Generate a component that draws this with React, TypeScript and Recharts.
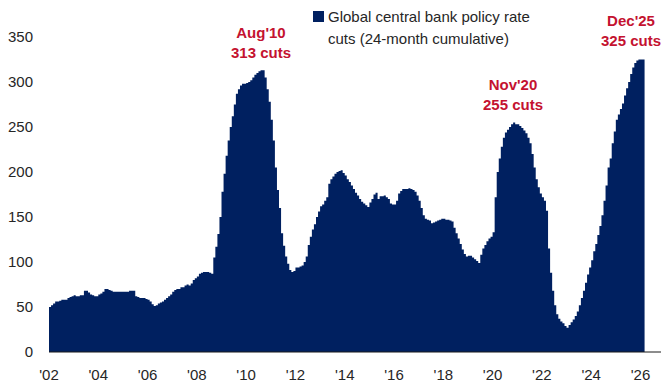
import React from 'react';
import { AreaChart, Area, XAxis, YAxis } from 'recharts';

// monthly values, 24-month cumulative count of policy rate cuts
const v2002 = [50, 52, 54, 56, 56, 57, 58, 58, 58, 60, 61, 62];
const v2003 = [63, 62, 62, 63, 63, 68, 68, 66, 64, 63, 62, 62];
const v2004 = [64, 65, 67, 70, 70, 69, 68, 67, 67, 67, 67, 67];
const v2005 = [67, 67, 67, 68, 68, 68, 62, 61, 60, 60, 60, 59];
const v2006 = [58, 56, 53, 51, 52, 54, 55, 56, 58, 60, 62, 64];
const v2007 = [67, 69, 70, 70, 72, 72, 74, 75, 74, 76, 80, 82];
const v2008 = [84, 87, 88, 89, 89, 89, 88, 87, 105, 117, 131, 150];
const v2009 = [178, 198, 218, 235, 250, 262, 275, 287, 292, 296, 298, 298];
const v2010 = [299, 300, 302, 305, 308, 310, 312, 313, 313, 305, 292, 278];
const v2011 = [258, 235, 205, 180, 160, 132, 118, 106, 98, 91, 89, 90];
const v2012 = [94, 94, 95, 96, 100, 106, 119, 128, 136, 142, 150, 156];
const v2013 = [162, 164, 168, 172, 187, 192, 195, 198, 200, 201, 202, 199];
const v2014 = [196, 192, 189, 185, 181, 177, 174, 170, 167, 165, 163, 161];
const v2015 = [166, 170, 175, 177, 170, 173, 173, 174, 172, 170, 165, 164];
const v2016 = [164, 168, 176, 179, 181, 181, 181, 182, 181, 180, 178, 174];
const v2017 = [168, 160, 152, 148, 147, 146, 143, 144, 145, 146, 147, 148];
const v2018 = [148, 147, 147, 146, 145, 138, 132, 126, 120, 114, 109, 106];
const v2019 = [107, 107, 105, 103, 101, 99, 108, 115, 119, 123, 126, 128];
const v2020 = [133, 172, 200, 215, 228, 238, 244, 247, 250, 253, 255, 253];
const v2021 = [253, 251, 249, 246, 243, 238, 232, 220, 205, 192, 183, 176];
const v2022 = [172, 168, 157, 115, 88, 68, 52, 42, 37, 34, 32, 29];
const v2023 = [27, 30, 33, 36, 40, 45, 52, 60, 68, 77, 86, 94];
const v2024 = [102, 112, 120, 130, 140, 152, 168, 185, 205, 215, 232, 245];
const v2025 = [258, 264, 270, 276, 285, 293, 300, 309, 316, 321, 324, 325];
const v2026 = [325, 325, 325];

const yearLabels = ["'02", "'04", "'06", "'08", "'10", "'12", "'14", "'16", "'18", "'20", "'22", "'24", "'26"];
const yTicks = [0, 50, 100, 150, 200, 250, 300, 350];

const allValues = [
  ...v2002, ...v2003, ...v2004, ...v2005, ...v2006, ...v2007, ...v2008, ...v2009,
  ...v2010, ...v2011, ...v2012, ...v2013, ...v2014, ...v2015, ...v2016, ...v2017,
  ...v2018, ...v2019, ...v2020, ...v2021, ...v2022, ...v2023, ...v2024, ...v2025, ...v2026,
];

const data = allValues.map((v, i) => ({ t: i, cuts: v }));
const xTicks = yearLabels.map((_, i) => i * 24);

const FONT = '"Liberation Sans", Arial, sans-serif';
const NAVY = '#002060';
const RED = '#C41230';

const Note = ({ x, y, lines }: { x: number; y: number; lines: string[] }) => (
  <div
    style={{
      position: 'absolute',
      left: x - 50,
      top: y,
      width: 100,
      textAlign: 'center',
      color: RED,
      fontWeight: 700,
      fontSize: 15,
      lineHeight: '20px',
      fontFamily: FONT,
    }}
  >
    {lines.map((l) => (
      <div key={l}>{l}</div>
    ))}
  </div>
);

const LegendBox = () => (
  <div
    style={{
      position: 'absolute',
      left: 313,
      top: 6,
      width: 300,
      fontFamily: FONT,
      fontSize: 15,
      lineHeight: '21.6px',
      color: '#262626',
    }}
  >
    <div style={{ position: 'absolute', left: 0, top: 5, width: 11, height: 11, background: NAVY }} />
    <div style={{ paddingLeft: 15 }}>
      Global central bank policy rate
      <br />
      cuts (24-month cumulative)
    </div>
  </div>
);

export default function App() {
  return (
    <div style={{ position: 'absolute', left: 0, top: 0, width: 661, height: 387 }}>
      <AreaChart width={661} height={387} data={data} margin={{ top: 37, right: 0, bottom: 0, left: 0 }}>
        <XAxis
          dataKey="t"
          type="number"
          domain={[0, 298]}
          ticks={xTicks}
          tickFormatter={(t: number) => yearLabels[t / 24]}
          height={35}
          tickLine={false}
          tickSize={0}
          tickMargin={17}
          axisLine={{ stroke: '#1a1a1a', strokeWidth: 1 }}
          tick={{ fill: '#262626', fontSize: 15, fontFamily: FONT }}
          interval={0}
        />
        <YAxis
          domain={[0, 350]}
          ticks={yTicks}
          width={49}
          axisLine={false}
          tickLine={false}
          tickSize={0}
          tickMargin={16}
          tick={{ fill: '#262626', fontSize: 15, fontFamily: FONT }}
          interval={0}
        />
        <Area
          type="stepAfter"
          dataKey="cuts"
          fill={NAVY}
          fillOpacity={1}
          stroke="none"
          dot={false}
          activeDot={false}
          isAnimationActive={false}
        />
      </AreaChart>
      <LegendBox />
      <Note x={261} y={23} lines={["Aug'10", '313 cuts']} />
      <Note x={513} y={75} lines={["Nov'20", '255 cuts']} />
      <Note x={631} y={11} lines={["Dec'25", '325 cuts']} />
    </div>
  );
}
